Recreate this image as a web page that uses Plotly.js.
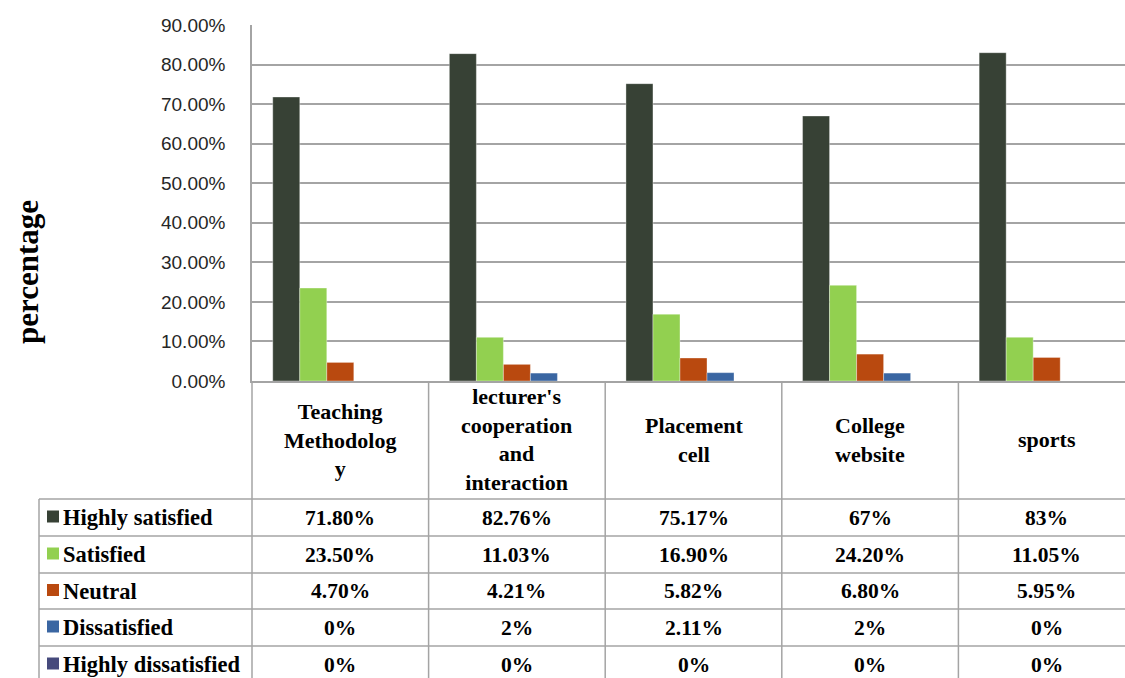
<!DOCTYPE html>
<html>
<head>
<meta charset="utf-8">
<script src="https://cdn.plot.ly/plotly-3.0.1.min.js"></script>
<style>
html,body{margin:0;padding:0;overflow:hidden;background:#fff;}
#chart{width:1140px;height:678px;}
</style>
</head>
<body>
<div id="chart"></div>
<script>
// ---- data ----
const categories = ["Teaching Methodology", "lecturer's cooperation and interaction", "Placement cell", "College website", "sports"];
const categoryLabels = ["Teaching<br>Methodolog<br>y", "lecturer's<br>cooperation<br>and<br>interaction", "Placement<br>cell", "College<br>website", "sports"];
const seriesNames = ["Highly satisfied", "Satisfied", "Neutral", "Dissatisfied", "Highly dissatisfied"];
const highlySatisfied = ["71.80%", "82.76%", "75.17%", "67%", "83%"];
const satisfied = ["23.50%", "11.03%", "16.90%", "24.20%", "11.05%"];
const neutral = ["4.70%", "4.21%", "5.82%", "6.80%", "5.95%"];
const dissatisfied = ["0%", "2%", "2.11%", "2%", "0%"];
const highlyDissatisfied = ["0%", "0%", "0%", "0%", "0%"];
const seriesColors = ["#374135", "#92d050", "#b9490f", "#3a66a2", "#464a7c"];
const yTickVals = [0, 0.1, 0.2, 0.3, 0.4, 0.5, 0.6, 0.7, 0.8, 0.9];

const seriesData = [highlySatisfied, satisfied, neutral, dissatisfied, highlyDissatisfied];
const toNum = s => parseFloat(s) / 100;

// ---- geometry helpers (pixel -> paper) ----
const L = 252, R = 1135, T = 25, B = 381;
const W = 1140, H = 678;
const px = x => (x - L) / (R - L);
const py = y => (B - y) / (B - T);

const traces = seriesNames.map((name, i) => ({
  type: 'bar',
  name: name,
  x: categories,
  y: seriesData[i].map(toNum),
  marker: {color: seriesColors[i], line: {color: 'rgba(255,255,255,0.35)', width: 1}},
  hoverinfo: 'x+y+name'
}));

const gridCol = '#a4a4a4';
const shapes = [];
const annotations = [];
const serif = 'Liberation Serif, Times New Roman, serif';

// table lines
const rowLines = [499, 536, 573, 609, 646, 683];
rowLines.forEach(y => shapes.push({type: 'line', xref: 'paper', yref: 'paper', x0: px(39), x1: px(R + 10), y0: py(y), y1: py(y), line: {color: gridCol, width: 1.5}}));
shapes.push({type: 'line', xref: 'paper', yref: 'paper', x0: 0, x1: 0, y0: py(B), y1: py(H + 10), line: {color: gridCol, width: 1.5}});
shapes.push({type: 'line', xref: 'paper', yref: 'paper', x0: px(39), x1: px(39), y0: py(499), y1: py(H + 10), line: {color: gridCol, width: 1.5}});
for (let i = 0; i < categories.length - 1; i++) {
  shapes.push({type: 'line', xref: 'x', yref: 'paper', x0: i + 0.5, x1: i + 0.5, y0: py(B), y1: py(H + 10), line: {color: gridCol, width: 1.5}});
}

// header labels
categories.forEach((c, i) => annotations.push({
  xref: 'x', yref: 'paper', x: c, y: py(440), text: categoryLabels[i], showarrow: false,
  xanchor: 'center', yanchor: 'middle', align: 'center',
  font: {family: serif, size: 22, color: '#000', weight: 'bold'}
}));

// rows
seriesNames.forEach((name, r) => {
  const top = rowLines[r], bot = rowLines[r + 1];
  const cy = (top + bot) / 2;
  shapes.push({type: 'rect', xref: 'paper', yref: 'paper', x0: px(47), x1: px(59), y0: py(cy - 6 - 1), y1: py(cy + 6 - 1), fillcolor: seriesColors[r], line: {width: 0}});
  annotations.push({xref: 'paper', yref: 'paper', x: px(61), y: py(cy), text: name, showarrow: false,
    xanchor: 'left', yanchor: 'middle', font: {family: serif, size: 22.5, color: '#000', weight: 'bold'}});
  categories.forEach((c, i) => annotations.push({
    xref: 'x', yref: 'paper', x: c, y: py(cy), text: seriesData[r][i], showarrow: false,
    xanchor: 'center', yanchor: 'middle', font: {family: serif, size: 21.5, color: '#000', weight: 'bold'}
  }));
});

// y-axis title
annotations.push({xref: 'paper', yref: 'paper', x: px(27), y: py(272), text: 'percentage', textangle: -90, showarrow: false,
  xanchor: 'center', yanchor: 'middle', font: {family: serif, size: 31, color: '#000', weight: 'bold'}});

const layout = {
  width: W, height: H,
  margin: {l: L, r: W - R, t: T, b: H - B, pad: 0},
  paper_bgcolor: '#fff', plot_bgcolor: '#fff',
  showlegend: false,
  barmode: 'group', bargap: 0.235, bargroupgap: 0,
  xaxis: {type: 'category', range: [-0.5, 4.5], showticklabels: false, ticks: '', showgrid: false,
    showline: true, linecolor: gridCol, linewidth: 1.5, zeroline: false, fixedrange: true},
  yaxis: {range: [0, 0.9], tickvals: yTickVals, tickformat: '.2%', ticks: '', ticklabelstandoff: 21,
    showgrid: true, gridcolor: gridCol, gridwidth: 1.5, showline: true, linecolor: gridCol, linewidth: 1.5,
    zeroline: false, tickfont: {family: 'Liberation Sans, Arial, sans-serif', size: 19, color: '#262626'}, fixedrange: true},
  shapes: shapes,
  annotations: annotations
};

Plotly.newPlot('chart', traces, layout, {displayModeBar: false, responsive: false});
</script>
</body>
</html>
